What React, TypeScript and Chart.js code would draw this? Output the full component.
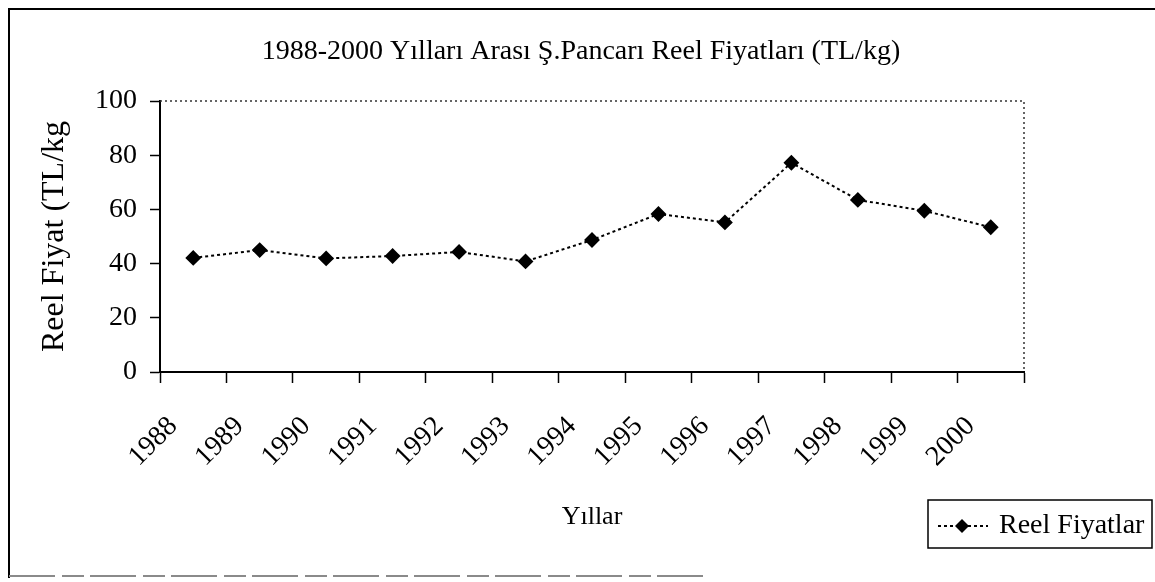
import React, { useEffect, useRef } from "react";
import { Chart, registerables } from "chart.js";

Chart.register(...registerables);

const years = ["1988", "1989", "1990", "1991", "1992", "1993", "1994", "1995", "1996", "1997", "1998", "1999", "2000"];
const reelFiyatlar = [42.1, 45.0, 41.9, 42.8, 44.3, 40.8, 48.7, 58.3, 55.2, 77.2, 63.5, 59.5, 53.4];
const yTicks = [0, 20, 40, 60, 80, 100];
const chartTitle = "1988-2000 Yılları Arası Ş.Pancarı Reel Fiyatları (TL/kg)";
const yTitle = "Reel Fiyat (TL/kg";
const xTitle = "Yıllar";
const seriesLabel = "Reel Fiyatlar";

const FONT = "'Liberation Serif', 'Times New Roman', serif";

const framePlugin = {
  id: "frame",
  beforeDraw(chart: any) {
    const { ctx, width, height } = chart;
    ctx.save();
    ctx.fillStyle = "#ffffff";
    ctx.fillRect(0, 0, width, height);
    // outer chart border
    ctx.strokeStyle = "#000000";
    ctx.lineWidth = 2;
    ctx.beginPath();
    ctx.moveTo(9, height - 4);
    ctx.lineTo(9, 9);
    ctx.lineTo(width, 9);
    ctx.stroke();
    ctx.strokeStyle = "#8a8a8a";
    ctx.setLineDash([46, 7, 22, 6]);
    ctx.beginPath();
    ctx.moveTo(9, height - 6);
    ctx.lineTo(706, height - 6);
    ctx.stroke();
    ctx.restore();
  },
  beforeDatasetsDraw(chart: any) {
    const { ctx, chartArea } = chart;
    ctx.save();
    ctx.strokeStyle = "#333333";
    ctx.lineWidth = 1.5;
    ctx.setLineDash([2, 3]);
    ctx.beginPath();
    ctx.moveTo(chartArea.left, chartArea.top);
    ctx.lineTo(chartArea.right, chartArea.top);
    ctx.lineTo(chartArea.right, chartArea.bottom);
    ctx.stroke();
    ctx.restore();
  },
  afterDraw(chart: any) {
    const { ctx } = chart;
    ctx.save();
    // chart title
    ctx.fillStyle = "#000000";
    ctx.font = `28px ${FONT}`;
    ctx.textAlign = "center";
    ctx.textBaseline = "middle";
    ctx.fillText(chartTitle, 581, 52);
    // legend box
    const bx = 928, by = 500, bw = 224, bh = 48;
    ctx.strokeStyle = "#000000";
    ctx.lineWidth = 1.5;
    ctx.strokeRect(bx, by, bw, bh);
    const cy = by + bh / 2 + 2;
    ctx.lineWidth = 2;
    ctx.setLineDash([3, 3]);
    ctx.beginPath();
    ctx.moveTo(938, cy);
    ctx.lineTo(988, cy);
    ctx.stroke();
    ctx.setLineDash([]);
    const r = 7;
    ctx.beginPath();
    ctx.moveTo(962, cy - r);
    ctx.lineTo(962 + r, cy);
    ctx.lineTo(962, cy + r);
    ctx.lineTo(962 - r, cy);
    ctx.closePath();
    ctx.fill();
    ctx.font = `28px ${FONT}`;
    ctx.textBaseline = "middle";
    ctx.textAlign = "left";
    ctx.fillText(seriesLabel, 999, cy);
    ctx.restore();
  },
};

export default function App() {
  const ref = useRef<HTMLCanvasElement | null>(null);

  useEffect(() => {
    if (!ref.current) return;
    const chart = new Chart(ref.current, {
      type: "line",
      data: {
        labels: years,
        datasets: [
          {
            label: seriesLabel,
            data: reelFiyatlar,
            borderColor: "#000000",
            backgroundColor: "#000000",
            borderWidth: 2,
            borderDash: [3, 3],
            pointStyle: "rectRot",
            pointRadius: 6.5,
            pointBackgroundColor: "#000000",
            pointBorderColor: "#000000",
            tension: 0,
            fill: false,
          },
        ],
      },
      options: {
        animation: false,
        responsive: false,
        maintainAspectRatio: false,
        layout: { padding: { left: 0, right: 131, top: 101, bottom: 0 } },
        plugins: {
          legend: { display: false },
          tooltip: { enabled: false },
          title: { display: false },
        },
        scales: {
          x: {
            type: "category",
            offset: true,
            grid: {
              offset: true,
              drawOnChartArea: false,
              drawTicks: true,
              tickLength: 11,
              tickColor: "#000000",
              tickWidth: 1.5,
            },
            border: { display: true, color: "#000000", width: 2 },
            ticks: {
              autoSkip: false,
              minRotation: 45,
              maxRotation: 45,
              padding: 27,
              labelOffset: -20,
              color: "#000000",
              font: { family: FONT, size: 28 },
            },
            title: {
              display: true,
              text: xTitle,
              color: "#000000",
              font: { family: FONT, size: 26 },
              padding: { top: 0, bottom: 49 },
            },
            afterFit: (scale: any) => {
              scale.height = 210;
            },
          },
          y: {
            type: "linear",
            min: 0,
            max: 100,
            afterBuildTicks: (scale: any) => {
              scale.ticks = yTicks.map((v) => ({ value: v }));
            },
            grid: {
              drawOnChartArea: false,
              drawTicks: true,
              tickLength: 10,
              tickColor: "#000000",
              tickWidth: 1.5,
            },
            border: { display: true, color: "#000000", width: 2 },
            ticks: {
              padding: 13,
              color: "#000000",
              font: { family: FONT, size: 28 },
            },
            title: {
              display: true,
              text: yTitle,
              color: "#000000",
              font: { family: FONT, size: 32 },
              padding: { top: 35, bottom: 0 },
            },
            afterFit: (scale: any) => {
              scale.width = 160;
            },
          },
        },
      },
      plugins: [framePlugin],
    });
    return () => chart.destroy();
  }, []);

  return (
    <div style={{ position: "fixed", left: 0, top: 0, width: 1155, height: 582, overflow: "hidden", background: "#fff" }}>
      <canvas ref={ref} width={1155} height={582} style={{ display: "block", width: 1155, height: 582 }} />
    </div>
  );
}
